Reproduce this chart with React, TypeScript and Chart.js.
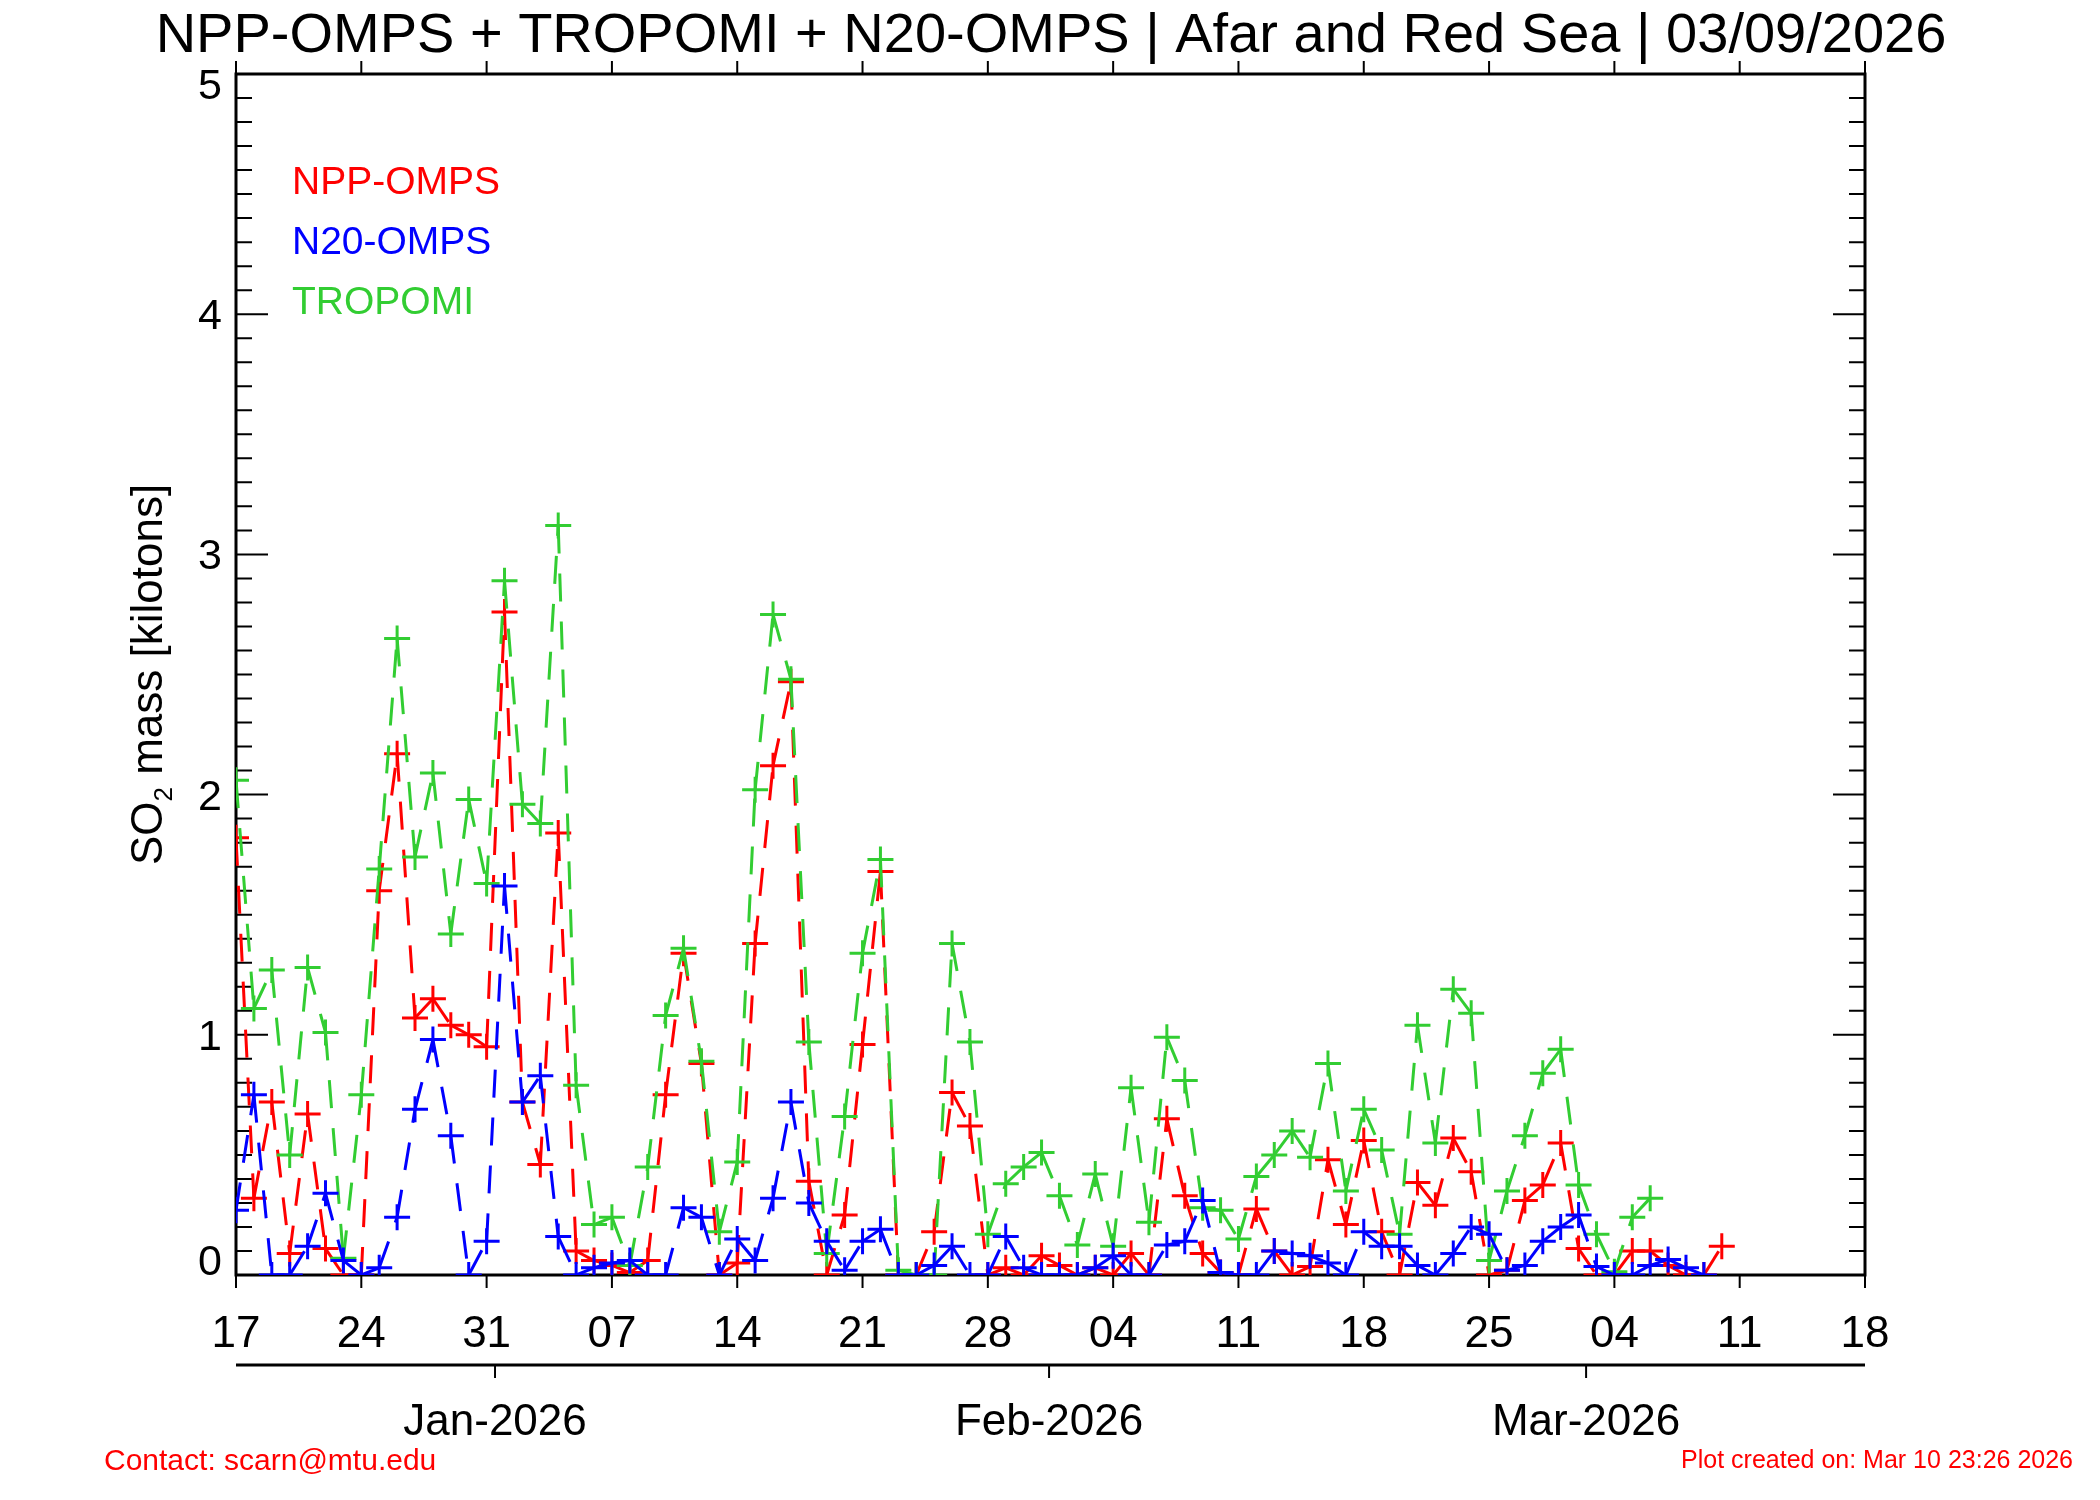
import React, { useEffect, useRef } from 'react';
import { Chart, registerables } from 'chart.js';

Chart.register(...registerables);

// Day index 0 = 17 Dec 2025
const xTickDays = [0, 7, 14, 21, 28, 35, 42, 49, 56, 63, 70, 77, 84, 91];
const xTickLabels = ['17', '24', '31', '07', '14', '21', '28', '04', '11', '18', '25', '04', '11', '18'];
const monthTickDays = [14.47, 45.42, 75.42];
const monthLabels = ['Jan-2026', 'Feb-2026', 'Mar-2026'];
const yMajorTicks = [0, 1, 2, 3, 4, 5];
const yTickLabels = ['0', '1', '2', '3', '4', '5'];

const seriesNames = ['NPP-OMPS', 'N20-OMPS', 'TROPOMI'];
const seriesColors = ['rgb(255,0,0)', 'rgb(0,0,255)', 'rgb(50,205,50)'];

const nppOmps = [
  1.82, 0.32, 0.72, 0.09, 0.67, 0.11, 0.0, 0.0, 1.6, 2.17,
  1.07, 1.15, 1.04, 1.0, 0.95, 2.76, 0.72, 0.46, 1.84, 0.1,
  0.06, 0.04, 0.01, 0.06, 0.75, 1.34, 0.88, 0.0, 0.05, 1.38,
  2.12, 2.47, 0.39, 0.0, 0.25, 0.96, 1.68, 0.0, 0.0, 0.18,
  0.76, 0.62, 0.0, 0.03, 0.0, 0.08, 0.04, 0.0, 0.03, 0.0,
  0.09, 0.0, 0.65, 0.33, 0.09, 0.01, 0.0, 0.275, 0.1, 0.0,
  0.035, 0.48, 0.21, 0.56, 0.18, 0.0, 0.385, 0.29, 0.57, 0.43,
  0.0, 0.02, 0.31, 0.375, 0.55, 0.11, 0.0, 0.0, 0.1, 0.1,
  0.04, 0.0, 0.0, 0.12,
];

const n20Omps = [
  0.27, 0.75, 0.0, 0.0, 0.12, 0.34, 0.06, 0.0, 0.03, 0.24,
  0.69, 0.98, 0.58, 0.0, 0.14, 1.62, 0.72, 0.83, 0.16, 0.0,
  0.03, 0.05, 0.06, 0.0, 0.0, 0.28, 0.24, 0.0, 0.15, 0.06,
  0.32, 0.72, 0.3, 0.14, 0.02, 0.14, 0.19, 0.0, 0.0, 0.04,
  0.12, 0.0, 0.0, 0.16, 0.03, 0.0, 0.0, 0.0, 0.03, 0.08,
  0.0, 0.0, 0.125, 0.14, 0.31, 0.01, 0.0, 0.0, 0.1, 0.09,
  0.08, 0.05, 0.0, 0.18, 0.12, 0.12, 0.04, 0.0, 0.09, 0.2,
  0.17, 0.02, 0.04, 0.14, 0.2, 0.25, 0.035, 0.0, 0.0, 0.04,
  0.065, 0.03, 0.0,
];

const tropomi = [
  2.06, 1.11, 1.27, 0.5, 1.28, 1.01, 0.07, 0.75, 1.69, 2.65,
  1.74, 2.09, 1.42, 1.98, 1.63, 2.89, 1.96, 1.88, 3.12, 0.79,
  0.21, 0.24, 0.04, 0.45, 1.08, 1.36, 0.89, 0.18, 0.47, 2.02,
  2.75, 2.48, 0.97, 0.09, 0.66, 1.34, 1.73, 0.02, 0.0, 0.0,
  1.38, 0.97, 0.17, 0.38, 0.45, 0.51, 0.33, 0.125, 0.42, 0.12,
  0.78, 0.22, 0.99, 0.81, 0.28, 0.27, 0.15, 0.41, 0.5, 0.6,
  0.49, 0.88, 0.35, 0.69, 0.52, 0.17, 1.04, 0.55, 1.19, 1.09,
  0.06, 0.35, 0.58, 0.84, 0.94, 0.375, 0.17, 0.014, 0.24, 0.32,
];

const FONT = '"Liberation Sans", Arial, Helvetica, sans-serif';

const decorPlugin = {
  id: 'idlDecor',
  beforeDatasetsDraw(chart: any) {
    const { ctx, chartArea: a, scales } = chart;
    const x = scales.x;
    const y = scales.y;
    ctx.save();
    ctx.strokeStyle = '#000';
    ctx.lineWidth = 3;
    ctx.strokeRect(a.left, a.top, a.right - a.left, a.bottom - a.top);
    ctx.lineWidth = 2;
    // y ticks (inward), minor every 0.1
    for (let k = 0; k <= 50; k++) {
      const py = y.getPixelForValue(k / 10);
      const len = k % 10 === 0 ? 32 : 16;
      ctx.beginPath();
      ctx.moveTo(a.left, py);
      ctx.lineTo(a.left + len, py);
      ctx.moveTo(a.right, py);
      ctx.lineTo(a.right - len, py);
      ctx.stroke();
    }
    // x ticks (outward) bottom & top
    xTickDays.forEach((d) => {
      const px = x.getPixelForValue(d);
      ctx.beginPath();
      ctx.moveTo(px, a.bottom);
      ctx.lineTo(px, a.bottom + 13);
      ctx.moveTo(px, a.top);
      ctx.lineTo(px, a.top - 13);
      ctx.stroke();
    });
    // month axis
    const my = a.bottom + 90;
    ctx.lineWidth = 3;
    ctx.beginPath();
    ctx.moveTo(a.left, my);
    ctx.lineTo(a.right, my);
    ctx.stroke();
    ctx.lineWidth = 2;
    monthTickDays.forEach((d) => {
      const px = x.getPixelForValue(d);
      ctx.beginPath();
      ctx.moveTo(px, my);
      ctx.lineTo(px, my + 13);
      ctx.stroke();
    });
    ctx.restore();
  },
  afterDraw(chart: any) {
    const { ctx, chartArea: a, scales } = chart;
    const x = scales.x;
    const y = scales.y;
    ctx.save();
    ctx.fillStyle = '#000';
    // y tick labels
    ctx.font = `43px ${FONT}`;
    ctx.textAlign = 'right';
    ctx.textBaseline = 'alphabetic';
    yMajorTicks.forEach((v, i) => {
      const py = y.getPixelForValue(v);
      let base = py + 15;
      if (i === 0) base = py;
      if (i === yMajorTicks.length - 1) base = py + 25;
      ctx.fillText(yTickLabels[i], a.left - 14, base);
    });
    // x tick labels
    ctx.font = `44px ${FONT}`;
    ctx.textAlign = 'center';
    xTickDays.forEach((d, i) => {
      ctx.fillText(xTickLabels[i], x.getPixelForValue(d), a.bottom + 72);
    });
    // month labels
    ctx.font = `44px ${FONT}`;
    monthTickDays.forEach((d, i) => {
      ctx.fillText(monthLabels[i], x.getPixelForValue(d), a.bottom + 160);
    });
    // title
    ctx.font = `56px ${FONT}`;
    ctx.fillText('NPP-OMPS + TROPOMI + N20-OMPS | Afar and Red Sea | 03/09/2026', 1051, 52);
    // y axis title (rotated, with subscript)
    ctx.save();
    ctx.translate(162, (a.top + a.bottom) / 2);
    ctx.rotate(-Math.PI / 2);
    ctx.textAlign = 'left';
    const big = `44px ${FONT}`;
    const small = `26px ${FONT}`;
    ctx.font = big;
    const w1 = ctx.measureText('SO').width;
    const w3 = ctx.measureText(' mass [kilotons]').width;
    ctx.font = small;
    const w2 = ctx.measureText('2').width;
    let u = -(w1 + w2 + w3) / 2;
    ctx.font = big;
    ctx.fillText('SO', u, 0);
    u += w1;
    ctx.font = small;
    ctx.fillText('2', u, 10);
    u += w2;
    ctx.font = big;
    ctx.fillText(' mass [kilotons]', u, 0);
    ctx.restore();
    // legend
    ctx.font = `39px ${FONT}`;
    ctx.textAlign = 'left';
    seriesNames.forEach((n, i) => {
      ctx.fillStyle = seriesColors[i];
      ctx.fillText(n, 292, 194 + i * 60);
    });
    // footer
    ctx.fillStyle = 'rgb(255,0,0)';
    ctx.font = `30px ${FONT}`;
    ctx.textAlign = 'left';
    ctx.fillText('Contact: scarn@mtu.edu', 104, 1470);
    ctx.font = `25px ${FONT}`;
    ctx.textAlign = 'right';
    ctx.fillText('Plot created on: Mar 10 23:26 2026', 2073, 1468);
    ctx.restore();
  },
};

function makeDataset(values: number[], color: string, order: number) {
  return {
    data: values.map((v, i) => ({ x: i, y: v })),
    borderColor: color,
    backgroundColor: color,
    pointBorderColor: color,
    pointBackgroundColor: color,
    borderWidth: 3,
    borderDash: [28, 20],
    pointStyle: 'cross',
    pointRadius: 13,
    pointBorderWidth: 3,
    tension: 0,
    fill: false,
    order,
    segment: {
      borderDashOffset: (c: any) => (c.p0DataIndex % 2) * 0.01,
    },
  };
}

export default function App() {
  const ref = useRef<HTMLCanvasElement | null>(null);
  useEffect(() => {
    if (!ref.current) return;
    const chart = new Chart(ref.current, {
      type: 'line',
      data: {
        datasets: [
          makeDataset(n20Omps, seriesColors[1], 0),
          makeDataset(tropomi, seriesColors[2], 1),
          makeDataset(nppOmps, seriesColors[0], 2),
        ] as any,
      },
      options: {
        responsive: false,
        animation: false,
        devicePixelRatio: 1,
        events: [],
        layout: { padding: { left: 236, right: 235, top: 74, bottom: 225 } },
        plugins: { legend: { display: false }, tooltip: { enabled: false }, title: { display: false } },
        scales: {
          x: { type: 'linear', min: 0, max: 91, display: false },
          y: { type: 'linear', min: 0, max: 5, display: false },
        },
      } as any,
      plugins: [decorPlugin],
    });
    return () => chart.destroy();
  }, []);
  return (
    <div style={{ position: 'absolute', left: 0, top: 0, width: 2100, height: 1500, background: '#fff' }}>
      <canvas ref={ref} width={2100} height={1500} style={{ width: 2100, height: 1500 }} />
    </div>
  );
}
